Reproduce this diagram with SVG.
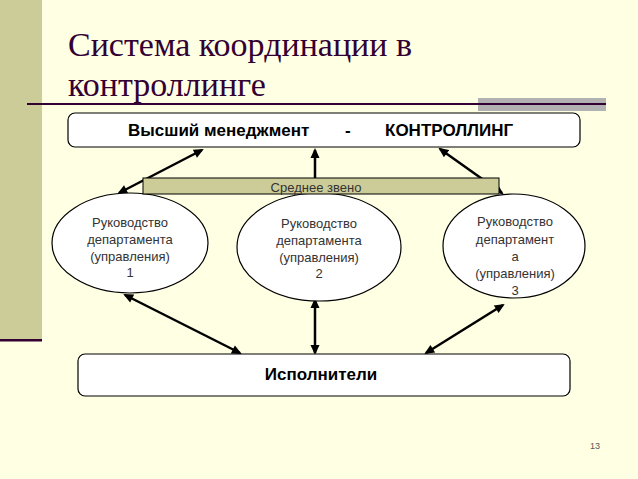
<svg xmlns="http://www.w3.org/2000/svg" width="638" height="479" viewBox="0 0 638 479">
<style>
.title{font-family:"Liberation Serif","Times New Roman",serif;font-size:34px;fill:#330033}
.box{fill:#FFFFFF;stroke:#000;stroke-width:1.2}
.bt{font-family:"Liberation Sans",Arial,sans-serif;font-size:17px;font-weight:bold;fill:#000}
.et{font-family:"Liberation Sans",Arial,sans-serif;font-size:13px;fill:#333;text-anchor:middle}
.con{stroke:#000;stroke-width:2.5;fill:none}
</style>
<defs>
<marker id="ah" viewBox="0 0 10 10" refX="8" refY="5" markerWidth="11" markerHeight="10" markerUnits="userSpaceOnUse" orient="auto-start-reverse">
<path d="M0,0.5 L10,5 L0,9.5 z" fill="#000"/>
</marker>
</defs>
<rect x="0" y="0" width="638" height="479" fill="#FFFFE3"/>
<rect x="0" y="0" width="42" height="340" fill="#CCCC99"/>
<rect x="0" y="339" width="42" height="2.5" fill="#330033"/>
<text class="title" x="68" y="56">Система координации в</text>
<text class="title" x="68" y="96">контроллинге</text>
<rect x="478" y="98" width="128" height="13" fill="#B2B2B2"/>
<rect x="27" y="103" width="579" height="2" fill="#330033"/>

<g id="connectors">
<line class="con" x1="202" y1="150" x2="119" y2="193" marker-start="url(#ah)" marker-end="url(#ah)"/>
<line class="con" x1="315" y1="178" x2="315" y2="150" marker-end="url(#ah)"/>
<line class="con" x1="440" y1="149" x2="502" y2="193" marker-start="url(#ah)" marker-end="url(#ah)"/>
<line class="con" x1="125" y1="295" x2="240" y2="353" marker-start="url(#ah)" marker-end="url(#ah)"/>
<line class="con" x1="315" y1="300" x2="315" y2="353" marker-start="url(#ah)" marker-end="url(#ah)"/>
<line class="con" x1="503" y1="305" x2="426" y2="353" marker-start="url(#ah)" marker-end="url(#ah)"/>
</g>

<g id="top">
<rect class="box" x="68" y="113" width="512" height="34" rx="7"/>
<text class="bt" y="136"><tspan x="128">Высший менеджмент</tspan><tspan x="345">-</tspan><tspan x="385">КОНТРОЛЛИНГ</tspan></text>
</g>

<g id="dept1">
<ellipse class="box" cx="130" cy="243" rx="78" ry="50"/>
<text class="et"><tspan x="130" y="227">Руководство</tspan><tspan x="130" y="244">департамента</tspan><tspan x="130" y="261">(управления)</tspan><tspan x="130" y="277">1</tspan></text>
</g>

<g id="dept2">
<ellipse class="box" cx="319" cy="247" rx="82" ry="54"/>
<text class="et"><tspan x="319" y="228">Руководство</tspan><tspan x="319" y="245">департамента</tspan><tspan x="319" y="262">(управления)</tspan><tspan x="319" y="278">2</tspan></text>
</g>

<g id="dept3">
<ellipse class="box" cx="514" cy="246" rx="71" ry="52"/>
<text class="et"><tspan x="515" y="226">Руководство</tspan><tspan x="515" y="244">департамент</tspan><tspan x="515" y="261">а</tspan><tspan x="515" y="278">(управления)</tspan><tspan x="515" y="295">3</tspan></text>
</g>

<g id="middle">
<rect x="143" y="178" width="356" height="16" fill="#CCCC99" stroke="#000" stroke-width="1"/>
<text class="et" x="316" y="192" font-size="13.5">Среднее звено</text>
</g>

<g id="bottom">
<rect class="box" x="78" y="354" width="492" height="42" rx="7"/>
<text class="bt" x="321" y="380" text-anchor="middle" font-size="18.5">Исполнители</text>
</g>

<text x="595" y="449" font-family="Liberation Sans,Arial,sans-serif" font-size="9" fill="#555" text-anchor="middle">13</text>
</svg>
